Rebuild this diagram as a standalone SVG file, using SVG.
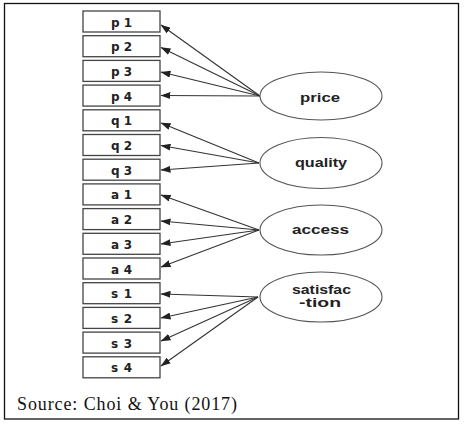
<svg xmlns="http://www.w3.org/2000/svg" width="464" height="424" viewBox="0 0 464 424">
  <defs>
    <marker id="arr" markerUnits="userSpaceOnUse" markerWidth="10" markerHeight="7" refX="9.5" refY="3.5" orient="auto">
      <path d="M0,0 L10,3.5 L0,7 z" fill="#222"/>
    </marker>
    <style>
      .box rect { fill: #fff; stroke: #444; stroke-width: 1.3; }
      .box text { font-family: "DejaVu Sans", Verdana, sans-serif; font-weight: bold; font-size: 12px; fill: #222; text-anchor: middle; }
      .lat ellipse { fill: #fff; stroke: #555; stroke-width: 1.1; }
      .lat text { font-family: "Liberation Sans", Arial, sans-serif; font-weight: bold; font-size: 12px; fill: #222; text-anchor: middle; }
      .conn line { stroke: #333; stroke-width: 1.1; marker-end: url(#arr); }
    </style>
  </defs>
  <rect x="0" y="0" width="464" height="424" fill="#fff"/>
  <rect x="4.5" y="3.5" width="454" height="415.5" fill="none" stroke="#111" stroke-width="1.3"/>

  <g id="p1" class="box"><rect x="83" y="11" width="77" height="21"/><text x="121.5" y="26.5" textLength="21" lengthAdjust="spacing">p1</text></g>
  <g id="p2" class="box"><rect x="83" y="35.7" width="77" height="21"/><text x="121.5" y="51.2" textLength="21" lengthAdjust="spacing">p2</text></g>
  <g id="p3" class="box"><rect x="83" y="60.4" width="77" height="21"/><text x="121.5" y="75.9" textLength="21" lengthAdjust="spacing">p3</text></g>
  <g id="p4" class="box"><rect x="83" y="85.1" width="77" height="21"/><text x="121.5" y="100.6" textLength="21" lengthAdjust="spacing">p4</text></g>
  <g id="q1" class="box"><rect x="83" y="109.8" width="77" height="21"/><text x="121.5" y="125.3" textLength="21" lengthAdjust="spacing">q1</text></g>
  <g id="q2" class="box"><rect x="83" y="134.5" width="77" height="21"/><text x="121.5" y="150" textLength="21" lengthAdjust="spacing">q2</text></g>
  <g id="q3" class="box"><rect x="83" y="159.2" width="77" height="21"/><text x="121.5" y="174.7" textLength="21" lengthAdjust="spacing">q3</text></g>
  <g id="a1" class="box"><rect x="83" y="183.9" width="77" height="21"/><text x="121.5" y="199.4" textLength="21" lengthAdjust="spacing">a1</text></g>
  <g id="a2" class="box"><rect x="83" y="208.6" width="77" height="21"/><text x="121.5" y="224.1" textLength="21" lengthAdjust="spacing">a2</text></g>
  <g id="a3" class="box"><rect x="83" y="233.3" width="77" height="21"/><text x="121.5" y="248.8" textLength="21" lengthAdjust="spacing">a3</text></g>
  <g id="a4" class="box"><rect x="83" y="258" width="77" height="21"/><text x="121.5" y="273.5" textLength="21" lengthAdjust="spacing">a4</text></g>
  <g id="s1" class="box"><rect x="83" y="282.7" width="77" height="21"/><text x="121.5" y="298.2" textLength="21" lengthAdjust="spacing">s1</text></g>
  <g id="s2" class="box"><rect x="83" y="307.4" width="77" height="21"/><text x="121.5" y="322.9" textLength="21" lengthAdjust="spacing">s2</text></g>
  <g id="s3" class="box"><rect x="83" y="332.1" width="77" height="21"/><text x="121.5" y="347.6" textLength="21" lengthAdjust="spacing">s3</text></g>
  <g id="s4" class="box"><rect x="83" y="356.8" width="77" height="21"/><text x="121.5" y="372.3" textLength="21" lengthAdjust="spacing">s4</text></g>

  <g id="connectors" class="conn">
    <line x1="260" y1="96" x2="161" y2="25"/>
    <line x1="260" y1="96" x2="161" y2="47.5"/>
    <line x1="260" y1="96" x2="161" y2="72"/>
    <line x1="260" y1="96" x2="161" y2="95.5"/>
    <line x1="259" y1="163" x2="161" y2="123"/>
    <line x1="259" y1="163" x2="161" y2="145.5"/>
    <line x1="259" y1="163" x2="161" y2="170"/>
    <line x1="259" y1="230" x2="161" y2="195"/>
    <line x1="259" y1="230" x2="161" y2="221"/>
    <line x1="259" y1="230" x2="161" y2="244"/>
    <line x1="259" y1="230" x2="161" y2="267"/>
    <line x1="258" y1="297" x2="161" y2="294"/>
    <line x1="258" y1="297" x2="161" y2="318"/>
    <line x1="258" y1="297" x2="161" y2="341"/>
    <line x1="258" y1="297" x2="161" y2="366"/>
  </g>

  <g id="price" class="lat"><ellipse cx="321" cy="96" rx="61" ry="24"/><text x="320" y="101.5" textLength="40" lengthAdjust="spacingAndGlyphs">price</text></g>
  <g id="quality" class="lat"><ellipse cx="321" cy="163" rx="61" ry="25.5"/><text x="321" y="167" textLength="52" lengthAdjust="spacingAndGlyphs">quality</text></g>
  <g id="access" class="lat"><ellipse cx="321" cy="230" rx="61" ry="25"/><text x="320.5" y="234" textLength="57" lengthAdjust="spacingAndGlyphs">access</text></g>
  <g id="satisfaction" class="lat"><ellipse cx="321" cy="297" rx="61" ry="25"/><text x="321.5" y="294" font-size="11.5" textLength="59" lengthAdjust="spacingAndGlyphs">satisfac</text><text x="320" y="307" font-size="11.5" textLength="42" lengthAdjust="spacingAndGlyphs">-tion</text></g>

  <text x="17" y="410" font-family="'Liberation Serif', 'Times New Roman', serif" font-size="18" fill="#111" textLength="220" lengthAdjust="spacing">Source: Choi &amp; You (2017)</text>
</svg>
